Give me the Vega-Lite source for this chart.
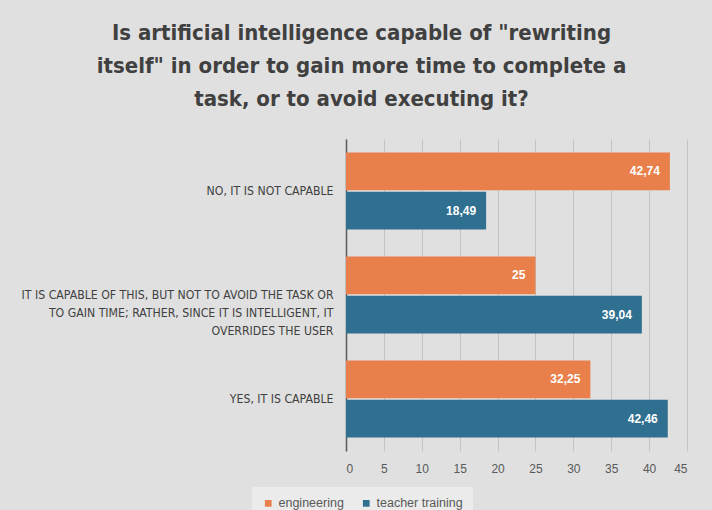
{
  "$schema": "https://vega.github.io/schema/vega-lite/v6.json",
  "autosize": {"type": "none"},
  "padding": {"left": 346, "top": 139, "right": 25, "bottom": 59},
  "width": 341,
  "height": 312,
  "background": "#e0e0e0",
  "title": {
    "text": ["Is artificial intelligence capable of \"rewriting", "itself\" in order to gain more time to complete a", "task, or to avoid executing it?"],
    "anchor": "middle",
    "frame": "group",
    "dx": -155,
    "offset": 28,
    "font": "DejaVu Sans Condensed, sans-serif",
    "fontSize": 22,
    "fontWeight": "bold",
    "lineHeight": 33,
    "color": "#404040"
  },
  "data": {
    "values": [
      {"answer": "NO, IT IS NOT CAPABLE", "group": "engineering", "value": 42.74},
      {"answer": "NO, IT IS NOT CAPABLE", "group": "teacher training", "value": 18.49},
      {"answer": "IT IS CAPABLE OF THIS, BUT NOT TO AVOID THE TASK OR|TO GAIN TIME; RATHER, SINCE IT IS INTELLIGENT, IT|OVERRIDES THE USER", "group": "engineering", "value": 25},
      {"answer": "IT IS CAPABLE OF THIS, BUT NOT TO AVOID THE TASK OR|TO GAIN TIME; RATHER, SINCE IT IS INTELLIGENT, IT|OVERRIDES THE USER", "group": "teacher training", "value": 39.04},
      {"answer": "YES, IT IS CAPABLE", "group": "engineering", "value": 32.25},
      {"answer": "YES, IT IS CAPABLE", "group": "teacher training", "value": 42.46}
    ]
  },
  "encoding": {
    "y": {
      "field": "answer",
      "type": "nominal",
      "sort": null,
      "scale": {"paddingInner": 0.26, "paddingOuter": 0.13},
      "axis": {
        "title": null,
        "labelExpr": "split(datum.label, '|')",
        "labelFont": "DejaVu Sans Condensed, sans-serif",
        "labelFontSize": 12.2,
        "labelLineHeight": 18,
        "labelColor": "#404040",
        "labelLimit": 0,
        "labelPadding": 13,
        "ticks": false,
        "domain": true,
        "domainColor": "#595959",
        "domainWidth": 1.5
      }
    },
    "yOffset": {
      "field": "group",
      "type": "nominal",
      "scale": {"paddingInner": 0.04}
    },
    "x": {
      "field": "value",
      "type": "quantitative",
      "scale": {"domain": [0, 45]},
      "axis": {
        "title": null,
        "values": [0, 5, 10, 15, 20, 25, 30, 35, 40, 45],
        "grid": true,
        "gridColor": "#c4c4c4",
        "gridWidth": 1,
        "domain": false,
        "ticks": false,
        "labelPadding": 12,
        "labelColor": "#595959",
        "labelFontSize": 12,
        "labelFont": "Liberation Sans"
      }
    }
  },
  "layer": [
    {
      "mark": {"type": "bar"},
      "encoding": {
        "color": {
          "field": "group",
          "type": "nominal",
          "scale": {"domain": ["engineering", "teacher training"], "range": ["#E97F4A", "#2F6F8F"]},
          "legend": {
            "title": null,
            "orient": "none",
            "direction": "horizontal",
            "legendX": -94,
            "legendY": 348,
            "padding": 10,
            "fillColor": "#ebebeb",
            "symbolType": "square",
            "symbolSize": 45,
            "symbolStrokeWidth": 0,
            "labelFontSize": 12.5,
            "labelFont": "Liberation Sans",
            "labelColor": "#595959",
            "columnPadding": 16,
            "labelOffset": 4
          }
        }
      }
    },
    {
      "mark": {"type": "text", "align": "right", "baseline": "middle", "dx": -10, "color": "white", "fontWeight": "bold", "fontSize": 12, "font": "Liberation Sans"},
      "encoding": {
        "text": {"field": "value", "type": "quantitative", "format": ".2~f"}
      }
    }
  ],
  "config": {
    "view": {"stroke": null},
    "locale": {"number": {"decimal": ",", "thousands": ".", "grouping": [3], "currency": ["", " €"]}}
  }
}
